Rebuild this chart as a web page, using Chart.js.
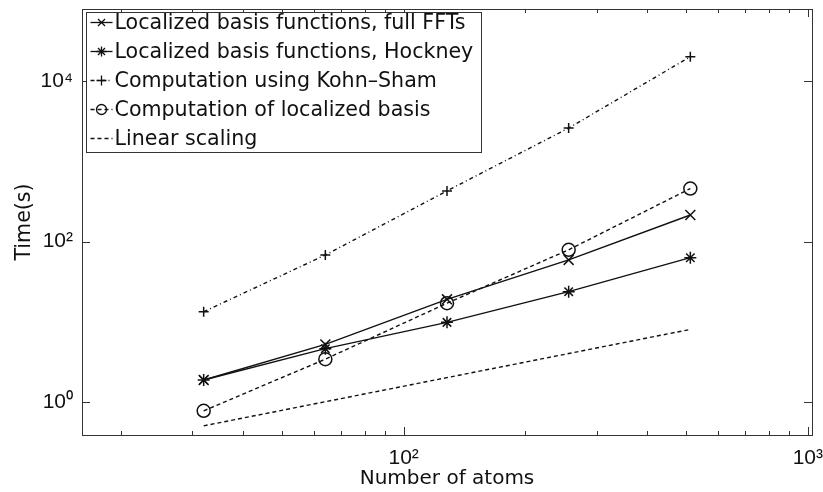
<!DOCTYPE html>
<html>
<head>
<meta charset="utf-8">
<script src="https://cdn.jsdelivr.net/npm/chart.js@4.4.0/dist/chart.umd.min.js"></script>
<style>
  html, body { margin: 0; padding: 0; background: #fff; }
  #wrap { width: 823px; height: 492px; }
</style>
</head>
<body>
<div id="wrap"><canvas id="timing"></canvas></div>
<script>
// number of atoms
const atoms = [32, 64, 128, 256, 512];

// timings in seconds
const fullFFT = [1.87, 5.2, 19, 59, 215];
const hockney = [1.87, 4.6, 9.8, 23.7, 63];
const kohnSham = [13.3, 68, 430, 2620, 20400];
const locBasis = [0.77, 3.4, 17, 79, 460];
const linearScaling = [0.5, 1, 2, 4, 8];

const xTickVals = [20, 30, 40, 50, 60, 70, 80, 90, 100, 200, 300, 400, 500, 600, 700, 800, 900, 1000];
const xMajor = [100, 1000];
const yTickVals = [1, 100, 10000];

const sup = {100: '10\u00b2', 1000: '10\u00b3', 1: '10\u2070', 10000: '10\u2074'};

function pts(ys) {
    return atoms.map(function (a, i) { return {x: a, y: ys[i]}; });
}

const ink = '#111';
const tickFont = 'Liberation Sans, Arial, Helvetica, sans-serif';
const textFont = 'DejaVu Sans, Verdana, sans-serif';

// frame plus inward ticks on all four sides, matlab style
const frameTicks = {
    id: 'frameTicks',
    afterDraw(chart) {
        const ctx = chart.ctx;
        const a = chart.chartArea;
        const xs = chart.scales.x, ys = chart.scales.y;
        ctx.save();
        ctx.strokeStyle = '#333';
        ctx.lineWidth = 1;
        ctx.strokeRect(a.left + 0.5, a.top + 0.5, a.right - a.left, a.bottom - a.top);
        ctx.beginPath();
        xTickVals.forEach(function (v) {
            const px = Math.round(xs.getPixelForValue(v)) + 0.5;
            const len = xMajor.indexOf(v) >= 0 ? 8 : 4;
            ctx.moveTo(px, a.bottom); ctx.lineTo(px, a.bottom - len);
            ctx.moveTo(px, a.top); ctx.lineTo(px, a.top + len);
        });
        yTickVals.forEach(function (v) {
            const py = Math.round(ys.getPixelForValue(v)) + 0.5;
            ctx.moveTo(a.left, py); ctx.lineTo(a.left + 8, py);
            ctx.moveTo(a.right, py); ctx.lineTo(a.right - 8, py);
        });
        ctx.stroke();
        ctx.restore();
    }
};

// legend box in the upper left corner of the axes
function drawMarker(ctx, style, x, y, r) {
    ctx.beginPath();
    if (style === 'cross' || style === 'star') {
        ctx.moveTo(x - r, y); ctx.lineTo(x + r, y);
        ctx.moveTo(x, y - r); ctx.lineTo(x, y + r);
    }
    if (style === 'crossRot' || style === 'star') {
        const d = r * Math.SQRT1_2;
        ctx.moveTo(x - d, y - d); ctx.lineTo(x + d, y + d);
        ctx.moveTo(x - d, y + d); ctx.lineTo(x + d, y - d);
    }
    if (style === 'circle') {
        ctx.arc(x, y, r, 0, Math.PI * 2);
    }
    ctx.stroke();
}

const boxLegend = {
    id: 'boxLegend',
    afterDraw(chart) {
        const ctx = chart.ctx;
        const a = chart.chartArea;
        const bx = a.left + 4.5, by = a.top + 3.5, bw = 395, bh = 140;
        ctx.save();
        ctx.fillStyle = '#fff';
        ctx.fillRect(bx, by, bw, bh);
        ctx.strokeStyle = '#333';
        ctx.lineWidth = 1;
        ctx.strokeRect(bx, by, bw, bh);
        ctx.font = '20.6px ' + textFont;
        ctx.textBaseline = 'middle';
        chart.data.datasets.forEach(function (ds, i) {
            const cy = by + 10 + i * 29;
            ctx.strokeStyle = ink;
            ctx.lineWidth = 1.3;
            ctx.setLineDash(ds.borderDash || []);
            ctx.beginPath();
            ctx.moveTo(bx + 4, cy); ctx.lineTo(bx + 26, cy);
            ctx.stroke();
            ctx.setLineDash([]);
            if (ds.pointRadius > 0) {
                drawMarker(ctx, ds.pointStyle, bx + 15, cy, ds.legendR);
            }
            ctx.fillStyle = ink;
            ctx.fillText(ds.label, bx + 28, cy + 1);
        });
        ctx.restore();
    }
};

function series(label, ys, style, r, legendR, dash) {
    return {
        label: label,
        data: pts(ys),
        borderColor: ink,
        backgroundColor: 'rgba(0,0,0,0)',
        borderWidth: 1.4,
        borderDash: dash,
        pointStyle: style,
        pointRadius: r,
        legendR: legendR,
        pointBorderColor: ink,
        pointBorderWidth: 1.5,
        fill: false,
        tension: 0
    };
}

new Chart('timing', {
    type: 'line',
    data: {
        datasets: [
            series('Localized basis functions, full FFTs', fullFFT, 'crossRot', 7, 5, []),
            series('Localized basis functions, Hockney', hockney, 'star', 6, 5, []),
            series('Computation using Kohn\u2013Sham', kohnSham, 'cross', 5, 5, [4, 3, 1, 3]),
            series('Computation of localized basis', locBasis, 'circle', 6.5, 5, [4, 3]),
            series('Linear scaling', linearScaling, 'circle', 0, 0, [4, 3])
        ]
    },
    options: {
        responsive: true,
        maintainAspectRatio: false,
        animation: false,
        layout: { autoPadding: false, padding: { left: 0, right: 11, top: 9, bottom: 0 } },
        plugins: {
            legend: { display: false },
            tooltip: { enabled: false }
        },
        scales: {
            x: {
                type: 'logarithmic',
                min: 16,
                max: 1024,
                afterFit(s) {
                    s.height = 57;
                    s.paddingLeft = 0; s.paddingRight = 0;
                },
                afterBuildTicks(s) { s.ticks = xTickVals.map(function (v) { return {value: v}; }); },
                grid: { display: false, drawTicks: false },
                border: { display: false },
                ticks: {
                    autoSkip: false,
                    maxRotation: 0,
                    padding: 11,
                    color: ink,
                    font: { family: tickFont, size: 21 },
                    callback(v) { return sup[v] || ''; }
                },
                title: {
                    display: true,
                    text: 'Number of atoms',
                    color: ink,
                    font: { family: textFont, size: 20 },
                    padding: { top: 0, bottom: 1 }
                }
            },
            y: {
                type: 'logarithmic',
                min: 0.384,
                max: 80400,
                afterFit(s) {
                    s.width = 82;
                    s.paddingTop = 0; s.paddingBottom = 0;
                },
                afterBuildTicks(s) { s.ticks = yTickVals.map(function (v) { return {value: v}; }); },
                grid: { display: false, drawTicks: false },
                border: { display: false },
                ticks: {
                    autoSkip: false,
                    padding: 9,
                    color: ink,
                    font: { family: tickFont, size: 21 },
                    callback(v) { return sup[v] || ''; }
                },
                title: {
                    display: true,
                    text: 'Time(s)',
                    color: ink,
                    font: { family: textFont, size: 20.6 },
                    padding: { top: 12, bottom: 0 }
                }
            }
        }
    },
    plugins: [frameTicks, boxLegend]
});
</script>
</body>
</html>
